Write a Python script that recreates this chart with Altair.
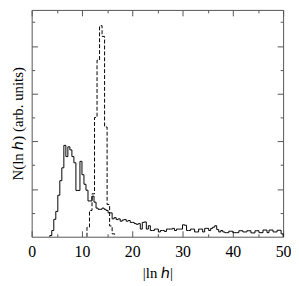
import altair as alt
import pandas as pd

# ---- data ----
solid_start = 3.6
solid_width = 0.4
solid_counts = [
    0.05, 0.26, 0.73, 1.06, 1.74, 2.35, 2.89, 3.83, 3.36, 3.77,
    3.64, 3.36, 3.10, 1.94, 1.94, 3.16, 2.60, 2.20, 1.95, 1.50,
    1.50, 1.70, 1.45, 1.20, 1.15, 1.15, 1.20, 1.15, 1.10, 1.00,
    1.00, 0.75, 0.80, 0.72, 0.75, 0.65, 0.70, 0.72, 0.65, 0.68,
    0.60, 0.60, 0.55, 0.52, 0.55, 0.32, 0.60, 0.62, 0.32, 0.46,
    0.26, 0.26, 0.32, 0.32, 0.20, 0.26, 0.26, 0.22, 0.32, 0.32,
    0.32, 0.35, 0.26, 0.32, 0.32, 0.32, 0.50, 0.48, 0.26, 0.26,
    0.32, 0.32, 0.20, 0.20, 0.32, 0.32, 0.20, 0.35, 0.35, 0.26,
    0.35, 0.40, 0.46, 0.30, 0.20, 0.26, 0.20, 0.17, 0.17, 0.23,
    0.23, 0.17, 0.17, 0.17, 0.25, 0.25, 0.20, 0.20, 0.25, 0.25,
    0.16, 0.16, 0.25, 0.25, 0.17, 0.17, 0.28, 0.28, 0.17, 0.28,
    0.28, 0.20, 0.20, 0.27, 0.27, 0.12,
]
dashed_start = 11.0
dashed_width = 0.5
dashed_counts = [0.40, 1.10, 1.80, 5.00, 7.40, 8.85, 8.40, 4.60, 1.35, 0.45, 0.12]

x_major = [0, 10, 20, 30, 40, 50]
x_minor = [5, 15, 25, 35, 45]
y_major = [2, 4, 6, 8]
y_minor = [1, 3, 5, 7, 9]


def steps(start, width, counts, name):
    rows = [{"x": start, "y": 0.0, "o": 0, "s": name}]
    for i, c in enumerate(counts):
        rows.append({"x": start + i * width, "y": c, "o": i + 1, "s": name})
    rows.append({"x": start + len(counts) * width, "y": 0.0, "o": len(counts) + 1, "s": name})
    return rows


df = pd.DataFrame(steps(solid_start, solid_width, solid_counts, "solid")
                  + steps(dashed_start, dashed_width, dashed_counts, "dashed"))

FONT = "Liberation Serif"
FRAME = "#555555"
xs = alt.Scale(domain=[0, 50], nice=False, zero=False)
ys = alt.Scale(domain=[0, 9.51], nice=False)


def axis(orient, values, size, labels=False, title="", title_pad=6):
    return alt.Axis(orient=orient, values=values, tickSize=size, offset=-size,
                    labels=labels, title=title, domain=False, grid=False,
                    tickColor=FRAME, tickWidth=1, labelFont=FONT, labelFontSize=16,
                    labelColor="black", labelPadding=7, labelFlush=False,
                    titleFont=FONT, titleFontSize=15, titleFontWeight="normal",
                    titleColor="black", titlePadding=title_pad)


base = alt.Chart(df)

solid = base.transform_filter(alt.datum.s == "solid").mark_line(
    interpolate="step-after", color="black", strokeWidth=1
).encode(
    x=alt.X("x:Q", scale=xs, axis=axis("bottom", x_major, 6, labels=True, title="|ln ℎ|", title_pad=6)),
    y=alt.Y("y:Q", scale=ys, axis=axis("left", y_major, 6, title="N(ln ℎ) (arb. units)", title_pad=6)),
    order="o:Q",
)

dashed = base.transform_filter(alt.datum.s == "dashed").mark_line(
    interpolate="step-after", color="black", strokeWidth=1, strokeDash=[4, 2]
).encode(
    x=alt.X("x:Q", scale=xs, axis=axis("top", x_major, 6)),
    y=alt.Y("y:Q", scale=ys, axis=axis("right", y_major, 6)),
    order="o:Q",
)

minor1 = base.transform_filter(alt.datum.s == "solid").mark_line(opacity=0).encode(
    x=alt.X("x:Q", scale=xs, axis=axis("bottom", x_minor, 3)),
    y=alt.Y("y:Q", scale=ys, axis=axis("left", y_minor, 3)),
    order="o:Q",
)

minor2 = base.transform_filter(alt.datum.s == "solid").mark_line(opacity=0).encode(
    x=alt.X("x:Q", scale=xs, axis=axis("top", x_minor, 3)),
    y=alt.Y("y:Q", scale=ys, axis=axis("right", y_minor, 3)),
    order="o:Q",
)

chart = alt.layer(solid, dashed, minor1, minor2).resolve_axis(
    x="independent", y="independent"
).properties(
    width=255, height=230,
    padding={"left": 24, "top": 0, "right": 8, "bottom": 46},
    autosize=alt.AutoSizeParams(type="none"),
    background="white",
).configure_view(stroke=FRAME, strokeWidth=1)

chart.save("out.html", embed_options={"renderer": "svg", "actions": False})
